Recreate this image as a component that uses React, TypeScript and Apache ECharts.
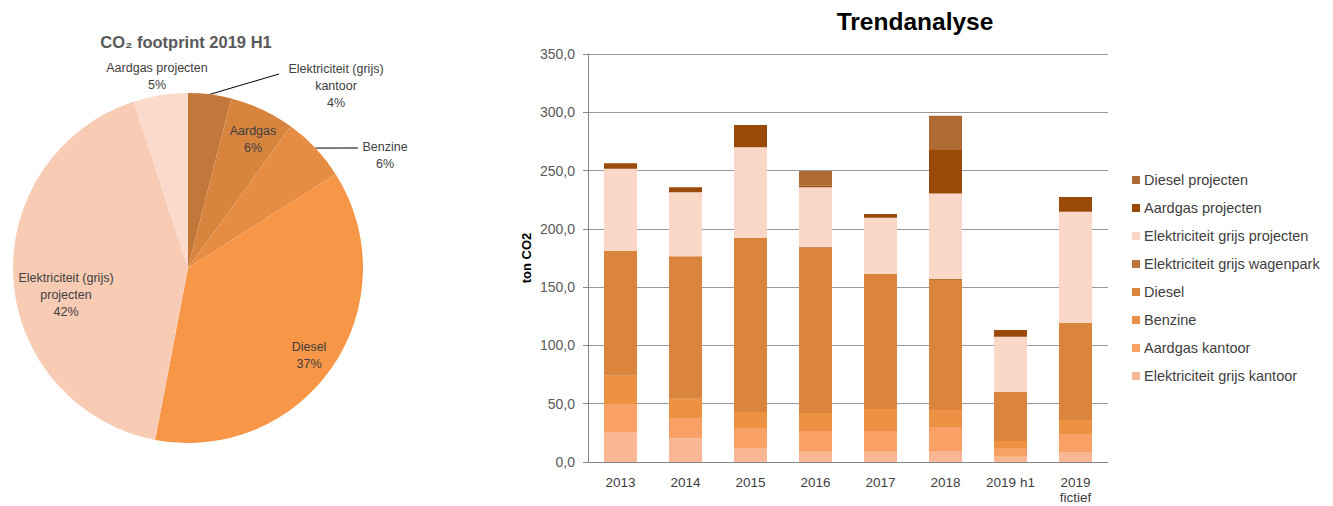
import React, { useEffect, useRef } from "react";
import * as echarts from "echarts";

// ---- data ----
const categories = ["2013", "2014", "2015", "2016", "2017", "2018", "2019 h1", "2019\nfictief"];

const elekKantoor = [25.7, 20.3, 12.0, 8.9, 8.9, 9.4, 4.5, 8.6];
const aardgasKantoor = [23.4, 17.4, 16.6, 17.7, 17.7, 20.6, 6.8, 14.8];
const benzine = [24.9, 16.6, 14.3, 15.4, 18.9, 14.6, 6.8, 12.6];
const diesel = [107.0, 122.1, 149.5, 141.8, 116.0, 111.5, 41.9, 83.5];
const elekWagenpark = [0, 0, 0, 0.8, 0, 1.1, 0, 0];
const elekProjecten = [70.6, 54.9, 77.5, 51.0, 48.0, 73.2, 47.5, 95.2];
const aardgasProjecten = [4.6, 4.3, 19.1, 1.7, 3.2, 37.2, 5.7, 12.6];
const dieselProjecten = [0, 0, 0, 12.3, 0, 29.4, 0, 0];

const seriesNames = [
  "Elektriciteit grijs kantoor",
  "Aardgas kantoor",
  "Benzine",
  "Diesel",
  "Elektriciteit grijs wagenpark",
  "Elektriciteit grijs projecten",
  "Aardgas projecten",
  "Diesel projecten",
];
const seriesValues = [
  elekKantoor,
  aardgasKantoor,
  benzine,
  diesel,
  elekWagenpark,
  elekProjecten,
  aardgasProjecten,
  dieselProjecten,
];
const seriesColors = ["#F8B692", "#F8A065", "#ED9143", "#DA843E", "#C07434", "#FBD7C8", "#9A4A08", "#AE6A32"];

const yTicks = [0, 50, 100, 150, 200, 250, 300, 350];

// pie: 2019 H1 shares
const pieIndex = 6;
const pieNames = [
  "Elektriciteit (grijs)\nkantoor",
  "Aardgas",
  "Benzine",
  "Diesel",
  "Elektriciteit (grijs)\nprojecten",
  "Aardgas projecten",
];
const pieSources = [elekKantoor, aardgasKantoor, benzine, diesel, elekProjecten, aardgasProjecten];
const pieColors = ["#C4773A", "#D7843F", "#E68D43", "#F79646", "#F8CBB4", "#FBDACB"];

const FONT = "'Liberation Sans', Arial, sans-serif";

// label layout (centres of label blocks) for the pie
const pieLabelPos: Array<{ x: number; y: number; line?: [number, number] }> = [
  { x: 336, y: 86, line: [279, 74] },
  { x: 253, y: 139 },
  { x: 385, y: 155, line: [358, 148] },
  { x: 309, y: 355 },
  { x: 66, y: 295 },
  { x: 157, y: 76 },
];

const LABEL_COLOR = "#404040";

export default function App() {
  const ref = useRef<HTMLDivElement>(null);
  useEffect(() => {
    if (!ref.current) return;
    const chart = echarts.init(ref.current, undefined, { renderer: "svg" });
    const pieData = pieNames.map((n, i) => ({
      name: n,
      value: pieSources[i][pieIndex],
      itemStyle: { color: pieColors[i] },
      label: {
        position: pieLabelPos[i].line || i === 5 ? "outside" : "inside",
        color: LABEL_COLOR,
      },
      labelLine: { show: !!pieLabelPos[i].line },
    }));
    const option: any = {
      animation: false,
      backgroundColor: "#ffffff",
      title: [
        {
          text: "CO\u2082 footprint 2019 H1",
          left: 181,
          top: 28,
          textAlign: "center",
          textStyle: { fontFamily: FONT, fontSize: 16.5, fontWeight: "bold", color: "#595959" },
        },
        {
          text: "Trendanalyse",
          left: 910,
          top: 4,
          textAlign: "center",
          textStyle: { fontFamily: FONT, fontSize: 24.5, fontWeight: "bold", color: "#000000" },
        },
      ],
      legend: {
        orient: "vertical",
        left: 1127,
        top: 167,
        itemWidth: 8,
        itemHeight: 8,
        itemGap: 12,
        icon: "rect",
        data: seriesNames.slice().reverse(),
        textStyle: {
          fontFamily: FONT,
          fontSize: 14.5,
          lineHeight: 16,
          color: LABEL_COLOR,
          padding: [0, 0, 0, -1],
        },
      },
      grid: { left: 588, top: 54, width: 520, height: 408, containLabel: false, outerBoundsMode: "none" },
      xAxis: {
        type: "category",
        data: categories,
        axisLine: { lineStyle: { color: "#868686", width: 1 } },
        axisTick: { show: false },
        axisLabel: {
          interval: 0,
          fontFamily: FONT,
          fontSize: 13.5,
          color: LABEL_COLOR,
          margin: 13,
          lineHeight: 15,
        },
      },
      yAxis: {
        type: "value",
        min: yTicks[0],
        max: yTicks[yTicks.length - 1],
        interval: 50,
        name: "ton CO2",
        nameLocation: "middle",
        nameGap: 55,
        nameTextStyle: { fontFamily: FONT, fontSize: 13, fontWeight: "bold", color: "#000000" },
        axisLine: { show: true, lineStyle: { color: "#868686" } },
        axisTick: { show: true, length: 5, lineStyle: { color: "#868686" } },
        splitLine: { lineStyle: { color: "#999999", width: 1 } },
        axisLabel: {
          fontFamily: FONT,
          fontSize: 14,
          color: "#595959",
          margin: 13,
          formatter: (v: number) => v.toFixed(1).replace(".", ","),
        },
      },
      series: [
        ...seriesNames.map((name, i) => ({
          type: "bar",
          name,
          stack: "total",
          data: seriesValues[i],
          barWidth: 33,
          itemStyle: { color: seriesColors[i] },
        })),
        {
          type: "pie",
          center: [188, 268],
          radius: 175,
          startAngle: 90,
          clockwise: true,
          data: pieData,
          label: {
            fontFamily: FONT,
            fontSize: 12.5,
            color: LABEL_COLOR,
            lineHeight: 17,
            align: "center",
            formatter: (p: any) => `${p.name}\n${Math.round(p.percent)}%`,
          },
          labelLine: { lineStyle: { color: "#000000", width: 1 } },
          labelLayout: (p: any) => {
            const pos = pieLabelPos[p.dataIndex];
            const res: any = { x: pos.x, y: pos.y, align: "center", verticalAlign: "middle" };
            if (pos.line && p.labelLinePoints) {
              const s = p.labelLinePoints[0];
              const e = pos.line;
              res.labelLinePoints = [s, [(s[0] + e[0]) / 2, (s[1] + e[1]) / 2], e];
            }
            return res;
          },
          emphasis: { disabled: true },
        },
      ],
    };
    chart.setOption(option);
    return () => chart.dispose();
  }, []);
  return (
    <div
      ref={ref}
      style={{ position: "absolute", left: 0, top: 0, width: 1333, height: 506 }}
    />
  );
}
